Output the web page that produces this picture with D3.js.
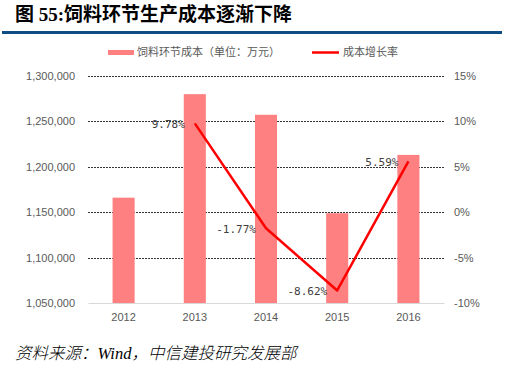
<!DOCTYPE html>
<html>
<head>
<meta charset="utf-8">
<script src="https://cdn.jsdelivr.net/npm/d3@7"></script>
<style>
  body { margin: 0; background: #fff; }
  svg { display: block; }
</style>
</head>
<body>
<svg width="518" height="369"></svg>
<script>
// data
let years = ["2012", "2013", "2014", "2015", "2016"];
let cost = [1166000, 1280000, 1257300, 1148900, 1213100];
let growth = [null, 9.78, -1.77, -8.62, 5.59];
let leftTicks = [1050000, 1100000, 1150000, 1200000, 1250000, 1300000];
let rightTicks = [-10, -5, 0, 5, 10, 15];

let svg = d3.select("svg");
let plotLeft = 88, plotRight = 444, plotTop = 76, plotBottom = 303;
let sans = "'Liberation Sans', Arial, sans-serif";
let cjk = "'Noto Sans CJK SC', sans-serif";

// title + rule
svg.append("text")
  .attr("x", 15).attr("y", 21)
  .style("font-family", "'Liberation Serif', " + cjk)
  .style("font-size", "19px")
  .style("font-weight", "bold")
  .text("图 55:饲料环节生产成本逐渐下降");

svg.append("rect")
  .attr("x", 2).attr("y", 31)
  .attr("width", 500).attr("height", 3)
  .attr("fill", "#0f4c81");

// legend
svg.append("rect").attr("x", 108).attr("y", 50).attr("width", 26).attr("height", 5).attr("fill", "#ff8080");
svg.append("text").attr("x", 137).attr("y", 56)
  .style("font-family", cjk).style("font-size", "11px").attr("fill", "#595959")
  .text("饲料环节成本（单位：万元）");
svg.append("line").attr("x1", 312).attr("x2", 339).attr("y1", 52.5).attr("y2", 52.5)
  .attr("stroke", "#ff0000").attr("stroke-width", 2.5);
svg.append("text").attr("x", 343).attr("y", 56)
  .style("font-family", cjk).style("font-size", "11px").attr("fill", "#595959")
  .text("成本增长率");

let xScale = d3.scaleBand().domain(years).range([plotLeft, plotRight]).paddingInner(0.69).paddingOuter(0.345);
let yScale = d3.scaleLinear().domain([1050000, 1300000]).range([plotBottom, plotTop]);
let y2Scale = d3.scaleLinear().domain([-10, 15]).range([plotBottom, plotTop]);

// gridlines
svg.append("g")
  .selectAll("line")
  .data(leftTicks.slice(1))
  .enter()
  .append("line")
  .attr("x1", plotLeft).attr("x2", plotRight)
  .attr("y1", d => Math.round(yScale(d)) + 0.5)
  .attr("y2", d => Math.round(yScale(d)) + 0.5)
  .attr("stroke", "#000")
  .attr("stroke-width", 0.8)
  .attr("stroke-dasharray", "2,1");

// axes
let yAxis = svg.append("g")
  .attr("transform", "translate(" + plotLeft + ",0)")
  .call(d3.axisLeft(yScale).tickValues(leftTicks).tickFormat(d3.format(",")).tickSize(0).tickPadding(13));
yAxis.select(".domain").remove();

let y2Axis = svg.append("g")
  .attr("transform", "translate(" + plotRight + ",0)")
  .call(d3.axisRight(y2Scale).tickValues(rightTicks).tickFormat(d => d + "%").tickSize(0).tickPadding(10));
y2Axis.select(".domain").remove();

let xAxis = svg.append("g")
  .attr("transform", "translate(0," + plotBottom + ")")
  .call(d3.axisBottom(xScale).tickSize(0).tickPadding(10));
xAxis.select(".domain").attr("stroke", "#d9d9d9");

svg.selectAll(".tick text")
  .style("font-family", sans)
  .style("font-size", "11px")
  .attr("fill", "#595959");

// bars
svg.append("g")
  .selectAll("rect")
  .data(cost)
  .enter()
  .append("rect")
  .attr("x", (d, i) => xScale(years[i]))
  .attr("y", d => yScale(d))
  .attr("width", xScale.bandwidth())
  .attr("height", d => plotBottom - yScale(d))
  .attr("fill", "#ff8080");

// growth line
let pts = [];
for (var i = 0; i < years.length; i++) {
  if (growth[i] !== null) pts.push([years[i], growth[i]]);
}
let line = d3.line()
  .x(d => xScale(d[0]) + xScale.bandwidth() / 2)
  .y(d => y2Scale(d[1]));

svg.append("path")
  .datum(pts)
  .attr("d", line)
  .attr("fill", "none")
  .attr("stroke", "#ff0000")
  .attr("stroke-width", 2.5)
  .attr("stroke-linejoin", "round");

svg.append("g")
  .selectAll("text")
  .data(pts)
  .enter()
  .append("text")
  .attr("x", d => xScale(d[0]) + xScale.bandwidth() / 2 - 10)
  .attr("y", d => y2Scale(d[1]) + 5)
  .attr("text-anchor", "end")
  .style("font-family", "'DejaVu Sans Mono', monospace")
  .style("font-size", "11px")
  .attr("fill", "#404040")
  .text(d => d[1].toFixed(2) + "%");

// source
svg.append("text")
  .attr("x", 15).attr("y", 359)
  .style("font-family", "'Liberation Serif', " + cjk)
  .style("font-size", "16.5px")
  .style("font-style", "italic")
  .style("font-weight", "300")
  .text("资料来源：Wind，中信建投研究发展部");
</script>
</body>
</html>
